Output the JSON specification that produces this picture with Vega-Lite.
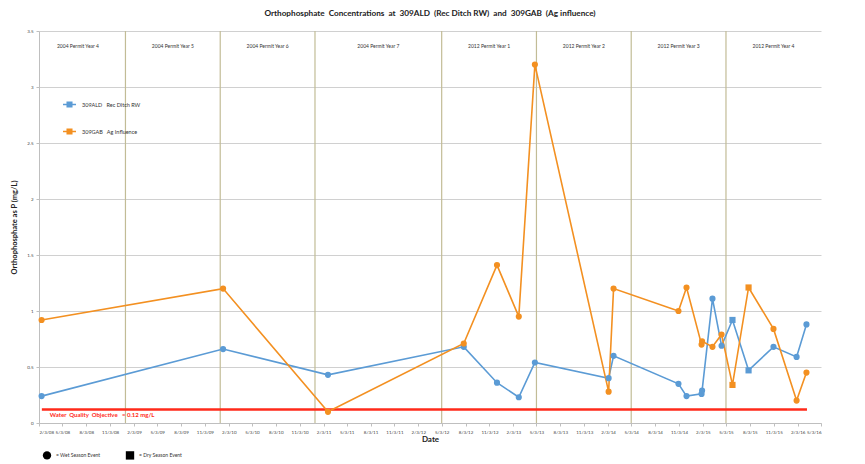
{
  "$schema": "https://vega.github.io/schema/vega-lite/v6.json",
  "width": 782,
  "height": 392,
  "autosize": {"type": "none"},
  "padding": {"left": 39, "top": 31, "right": 44, "bottom": 41},
  "background": "white",
  "title": {"text": "Orthophosphate\u00a0 Concentrations\u00a0 at\u00a0 309ALD\u00a0 (Rec Ditch RW)\u00a0 and\u00a0 309GAB\u00a0 (Ag influence)", "fontSize": 8.2, "font": "Lato", "fontWeight": "bold", "anchor": "middle", "offset": 10, "color": "#222222"},
  "config": {"view": {"stroke": null}, "font": "Lato", "axis": {"labelOverlap": false}},
  "datasets": {
    "samples": [
      {"date": "2008-02-13", "site": "309ALD\u00a0\u00a0 Rec Ditch RW", "value": 0.24, "season": "Wet"},
      {"date": "2010-01-12", "site": "309ALD\u00a0\u00a0 Rec Ditch RW", "value": 0.66, "season": "Wet"},
      {"date": "2011-02-20", "site": "309ALD\u00a0\u00a0 Rec Ditch RW", "value": 0.43, "season": "Wet"},
      {"date": "2012-07-27", "site": "309ALD\u00a0\u00a0 Rec Ditch RW", "value": 0.68, "season": "Wet"},
      {"date": "2012-12-02", "site": "309ALD\u00a0\u00a0 Rec Ditch RW", "value": 0.36, "season": "Wet"},
      {"date": "2013-02-24", "site": "309ALD\u00a0\u00a0 Rec Ditch RW", "value": 0.23, "season": "Wet"},
      {"date": "2013-04-27", "site": "309ALD\u00a0\u00a0 Rec Ditch RW", "value": 0.54, "season": "Wet"},
      {"date": "2014-02-05", "site": "309ALD\u00a0\u00a0 Rec Ditch RW", "value": 0.40, "season": "Wet"},
      {"date": "2014-02-24", "site": "309ALD\u00a0\u00a0 Rec Ditch RW", "value": 0.60, "season": "Wet"},
      {"date": "2014-11-01", "site": "309ALD\u00a0\u00a0 Rec Ditch RW", "value": 0.35, "season": "Wet"},
      {"date": "2014-12-02", "site": "309ALD\u00a0\u00a0 Rec Ditch RW", "value": 0.24, "season": "Wet"},
      {"date": "2015-01-29", "site": "309ALD\u00a0\u00a0 Rec Ditch RW", "value": 0.26, "season": "Wet"},
      {"date": "2015-01-31", "site": "309ALD\u00a0\u00a0 Rec Ditch RW", "value": 0.29, "season": "Wet"},
      {"date": "2015-03-12", "site": "309ALD\u00a0\u00a0 Rec Ditch RW", "value": 1.11, "season": "Wet"},
      {"date": "2015-04-16", "site": "309ALD\u00a0\u00a0 Rec Ditch RW", "value": 0.69, "season": "Wet"},
      {"date": "2015-05-28", "site": "309ALD\u00a0\u00a0 Rec Ditch RW", "value": 0.92, "season": "Dry"},
      {"date": "2015-07-29", "site": "309ALD\u00a0\u00a0 Rec Ditch RW", "value": 0.47, "season": "Dry"},
      {"date": "2015-11-02", "site": "309ALD\u00a0\u00a0 Rec Ditch RW", "value": 0.68, "season": "Wet"},
      {"date": "2016-01-30", "site": "309ALD\u00a0\u00a0 Rec Ditch RW", "value": 0.59, "season": "Wet"},
      {"date": "2016-03-08", "site": "309ALD\u00a0\u00a0 Rec Ditch RW", "value": 0.88, "season": "Wet"},
      {"date": "2008-02-13", "site": "309GAB\u00a0\u00a0 Ag Influence", "value": 0.92, "season": "Wet"},
      {"date": "2010-01-12", "site": "309GAB\u00a0\u00a0 Ag Influence", "value": 1.20, "season": "Wet"},
      {"date": "2011-02-20", "site": "309GAB\u00a0\u00a0 Ag Influence", "value": 0.10, "season": "Wet"},
      {"date": "2012-07-27", "site": "309GAB\u00a0\u00a0 Ag Influence", "value": 0.71, "season": "Wet"},
      {"date": "2012-12-02", "site": "309GAB\u00a0\u00a0 Ag Influence", "value": 1.41, "season": "Wet"},
      {"date": "2013-02-24", "site": "309GAB\u00a0\u00a0 Ag Influence", "value": 0.95, "season": "Wet"},
      {"date": "2013-04-27", "site": "309GAB\u00a0\u00a0 Ag Influence", "value": 3.20, "season": "Wet"},
      {"date": "2014-02-05", "site": "309GAB\u00a0\u00a0 Ag Influence", "value": 0.28, "season": "Wet"},
      {"date": "2014-02-24", "site": "309GAB\u00a0\u00a0 Ag Influence", "value": 1.20, "season": "Wet"},
      {"date": "2014-11-01", "site": "309GAB\u00a0\u00a0 Ag Influence", "value": 1.00, "season": "Wet"},
      {"date": "2014-12-02", "site": "309GAB\u00a0\u00a0 Ag Influence", "value": 1.21, "season": "Wet"},
      {"date": "2015-01-29", "site": "309GAB\u00a0\u00a0 Ag Influence", "value": 0.70, "season": "Wet"},
      {"date": "2015-01-31", "site": "309GAB\u00a0\u00a0 Ag Influence", "value": 0.73, "season": "Wet"},
      {"date": "2015-03-12", "site": "309GAB\u00a0\u00a0 Ag Influence", "value": 0.68, "season": "Wet"},
      {"date": "2015-04-16", "site": "309GAB\u00a0\u00a0 Ag Influence", "value": 0.79, "season": "Wet"},
      {"date": "2015-05-28", "site": "309GAB\u00a0\u00a0 Ag Influence", "value": 0.34, "season": "Dry"},
      {"date": "2015-07-29", "site": "309GAB\u00a0\u00a0 Ag Influence", "value": 1.21, "season": "Dry"},
      {"date": "2015-11-02", "site": "309GAB\u00a0\u00a0 Ag Influence", "value": 0.84, "season": "Wet"},
      {"date": "2016-01-30", "site": "309GAB\u00a0\u00a0 Ag Influence", "value": 0.20, "season": "Wet"},
      {"date": "2016-03-08", "site": "309GAB\u00a0\u00a0 Ag Influence", "value": 0.45, "season": "Wet"}
    ],
    "permit": [
      {"label": "2004 Permit Year 4", "start": "2008-01-01", "end": "2009-01-01"},
      {"label": "2004 Permit Year 5", "start": "2009-01-01", "end": "2010-01-01"},
      {"label": "2004 Permit Year 6", "start": "2010-01-01", "end": "2011-01-01"},
      {"label": "2004 Permit Year 7", "start": "2011-01-01", "end": "2012-05-03"},
      {"label": "2012 Permit Year 1", "start": "2012-05-03", "end": "2013-05-03"},
      {"label": "2012 Permit Year 2", "start": "2013-05-03", "end": "2014-05-03"},
      {"label": "2012 Permit Year 3", "start": "2014-05-03", "end": "2015-05-03"},
      {"label": "2012 Permit Year 4", "start": "2015-05-03", "end": "2016-05-03"}
    ],
    "wqo": [
      {"date": "2008-02-14", "end": "2016-03-10", "value": 0.12, "label": "Water\u00a0 Quality\u00a0 Objective\u00a0\u00a0 = 0.12 mg/L"}
    ]
  },
  "encoding": {
    "x": {
      "field": "date", "type": "temporal",
      "scale": {"type": "utc", "domain": [{"year": 2008, "month": 2, "date": 3, "utc": true}, {"year": 2016, "month": 5, "date": 3, "utc": true}]},
      "axis": {
        "title": "Date", "titleFontSize": 8, "titleFontWeight": "bold", "titleColor": "#222222", "titlePadding": 2,
        "format": "%-m/%-d/%y", "labelFontSize": 4.5, "labelColor": "#444444", "labelAngle": 0, "labelPadding": 3,
        "labelOverlap": false, "labelSeparation": 0, "grid": false, "domainColor": "#BFBFBF", "tickColor": "#BFBFBF", "tickSize": 3,
        "values": [
          {"year": 2008, "month": 2, "date": 3, "utc": true}, {"year": 2008, "month": 5, "date": 3, "utc": true}, {"year": 2008, "month": 8, "date": 3, "utc": true}, {"year": 2008, "month": 11, "date": 3, "utc": true},
          {"year": 2009, "month": 2, "date": 3, "utc": true}, {"year": 2009, "month": 5, "date": 3, "utc": true}, {"year": 2009, "month": 8, "date": 3, "utc": true}, {"year": 2009, "month": 11, "date": 3, "utc": true},
          {"year": 2010, "month": 2, "date": 3, "utc": true}, {"year": 2010, "month": 5, "date": 3, "utc": true}, {"year": 2010, "month": 8, "date": 3, "utc": true}, {"year": 2010, "month": 11, "date": 3, "utc": true},
          {"year": 2011, "month": 2, "date": 3, "utc": true}, {"year": 2011, "month": 5, "date": 3, "utc": true}, {"year": 2011, "month": 8, "date": 3, "utc": true}, {"year": 2011, "month": 11, "date": 3, "utc": true},
          {"year": 2012, "month": 2, "date": 3, "utc": true}, {"year": 2012, "month": 5, "date": 3, "utc": true}, {"year": 2012, "month": 8, "date": 3, "utc": true}, {"year": 2012, "month": 11, "date": 3, "utc": true},
          {"year": 2013, "month": 2, "date": 3, "utc": true}, {"year": 2013, "month": 5, "date": 3, "utc": true}, {"year": 2013, "month": 8, "date": 3, "utc": true}, {"year": 2013, "month": 11, "date": 3, "utc": true},
          {"year": 2014, "month": 2, "date": 3, "utc": true}, {"year": 2014, "month": 5, "date": 3, "utc": true}, {"year": 2014, "month": 8, "date": 3, "utc": true}, {"year": 2014, "month": 11, "date": 3, "utc": true},
          {"year": 2015, "month": 2, "date": 3, "utc": true}, {"year": 2015, "month": 5, "date": 3, "utc": true}, {"year": 2015, "month": 8, "date": 3, "utc": true}, {"year": 2015, "month": 11, "date": 3, "utc": true},
          {"year": 2016, "month": 2, "date": 3, "utc": true}, {"year": 2016, "month": 5, "date": 3, "utc": true}
        ]
      }
    }
  },
  "layer": [
    {
      "data": {"name": "permit"},
      "transform": [{"filter": "datum.label != '2004 Permit Year 4'"}],
      "mark": {"type": "rule", "color": "#C2BC96", "strokeWidth": 1.2},
      "encoding": {
        "x": {
          "field": "start", "type": "temporal",
          "axis": {
            "title": "Date", "titleFontSize": 8, "titleFontWeight": "bold", "titleColor": "#222222", "titlePadding": 2,
            "format": "%-m/%-d/%y", "labelFontSize": 4.5, "labelColor": "#444444", "labelAngle": 0, "labelPadding": 3,
            "labelOverlap": false, "labelSeparation": 0, "grid": false, "domainColor": "#BFBFBF", "tickColor": "#BFBFBF", "tickSize": 3,
            "values": [
              {"year": 2008, "month": 2, "date": 3, "utc": true}, {"year": 2008, "month": 5, "date": 3, "utc": true}, {"year": 2008, "month": 8, "date": 3, "utc": true}, {"year": 2008, "month": 11, "date": 3, "utc": true},
              {"year": 2009, "month": 2, "date": 3, "utc": true}, {"year": 2009, "month": 5, "date": 3, "utc": true}, {"year": 2009, "month": 8, "date": 3, "utc": true}, {"year": 2009, "month": 11, "date": 3, "utc": true},
              {"year": 2010, "month": 2, "date": 3, "utc": true}, {"year": 2010, "month": 5, "date": 3, "utc": true}, {"year": 2010, "month": 8, "date": 3, "utc": true}, {"year": 2010, "month": 11, "date": 3, "utc": true},
              {"year": 2011, "month": 2, "date": 3, "utc": true}, {"year": 2011, "month": 5, "date": 3, "utc": true}, {"year": 2011, "month": 8, "date": 3, "utc": true}, {"year": 2011, "month": 11, "date": 3, "utc": true},
              {"year": 2012, "month": 2, "date": 3, "utc": true}, {"year": 2012, "month": 5, "date": 3, "utc": true}, {"year": 2012, "month": 8, "date": 3, "utc": true}, {"year": 2012, "month": 11, "date": 3, "utc": true},
              {"year": 2013, "month": 2, "date": 3, "utc": true}, {"year": 2013, "month": 5, "date": 3, "utc": true}, {"year": 2013, "month": 8, "date": 3, "utc": true}, {"year": 2013, "month": 11, "date": 3, "utc": true},
              {"year": 2014, "month": 2, "date": 3, "utc": true}, {"year": 2014, "month": 5, "date": 3, "utc": true}, {"year": 2014, "month": 8, "date": 3, "utc": true}, {"year": 2014, "month": 11, "date": 3, "utc": true},
              {"year": 2015, "month": 2, "date": 3, "utc": true}, {"year": 2015, "month": 5, "date": 3, "utc": true}, {"year": 2015, "month": 8, "date": 3, "utc": true}, {"year": 2015, "month": 11, "date": 3, "utc": true},
              {"year": 2016, "month": 2, "date": 3, "utc": true}, {"year": 2016, "month": 5, "date": 3, "utc": true}
            ]
          }
        }
      }
    },
    {
      "data": {"name": "permit"},
      "transform": [{"calculate": "(time(datum.start) + time(datum.end)) / 2", "as": "mid"}],
      "mark": {"type": "text", "fontSize": 5, "color": "#333333", "align": "center", "baseline": "middle"},
      "encoding": {
        "x": {
          "field": "mid", "type": "temporal",
          "axis": {
            "title": "Date", "titleFontSize": 8, "titleFontWeight": "bold", "titleColor": "#222222", "titlePadding": 2,
            "format": "%-m/%-d/%y", "labelFontSize": 4.5, "labelColor": "#444444", "labelAngle": 0, "labelPadding": 3,
            "labelOverlap": false, "labelSeparation": 0, "grid": false, "domainColor": "#BFBFBF", "tickColor": "#BFBFBF", "tickSize": 3,
            "values": [
              {"year": 2008, "month": 2, "date": 3, "utc": true}, {"year": 2008, "month": 5, "date": 3, "utc": true}, {"year": 2008, "month": 8, "date": 3, "utc": true}, {"year": 2008, "month": 11, "date": 3, "utc": true},
              {"year": 2009, "month": 2, "date": 3, "utc": true}, {"year": 2009, "month": 5, "date": 3, "utc": true}, {"year": 2009, "month": 8, "date": 3, "utc": true}, {"year": 2009, "month": 11, "date": 3, "utc": true},
              {"year": 2010, "month": 2, "date": 3, "utc": true}, {"year": 2010, "month": 5, "date": 3, "utc": true}, {"year": 2010, "month": 8, "date": 3, "utc": true}, {"year": 2010, "month": 11, "date": 3, "utc": true},
              {"year": 2011, "month": 2, "date": 3, "utc": true}, {"year": 2011, "month": 5, "date": 3, "utc": true}, {"year": 2011, "month": 8, "date": 3, "utc": true}, {"year": 2011, "month": 11, "date": 3, "utc": true},
              {"year": 2012, "month": 2, "date": 3, "utc": true}, {"year": 2012, "month": 5, "date": 3, "utc": true}, {"year": 2012, "month": 8, "date": 3, "utc": true}, {"year": 2012, "month": 11, "date": 3, "utc": true},
              {"year": 2013, "month": 2, "date": 3, "utc": true}, {"year": 2013, "month": 5, "date": 3, "utc": true}, {"year": 2013, "month": 8, "date": 3, "utc": true}, {"year": 2013, "month": 11, "date": 3, "utc": true},
              {"year": 2014, "month": 2, "date": 3, "utc": true}, {"year": 2014, "month": 5, "date": 3, "utc": true}, {"year": 2014, "month": 8, "date": 3, "utc": true}, {"year": 2014, "month": 11, "date": 3, "utc": true},
              {"year": 2015, "month": 2, "date": 3, "utc": true}, {"year": 2015, "month": 5, "date": 3, "utc": true}, {"year": 2015, "month": 8, "date": 3, "utc": true}, {"year": 2015, "month": 11, "date": 3, "utc": true},
              {"year": 2016, "month": 2, "date": 3, "utc": true}, {"year": 2016, "month": 5, "date": 3, "utc": true}
            ]
          }
        },
        "y": {"datum": 3.37, "type": "quantitative"},
        "text": {"field": "label"}
      }
    },
    {
      "data": {"name": "wqo"},
      "mark": {"type": "rule", "color": "#FF2A1A", "strokeWidth": 2.5},
      "encoding": {
        "x2": {"field": "end"},
        "y": {
          "field": "value", "type": "quantitative",
          "scale": {"domain": [0, 3.5]},
          "axis": {
            "title": "Orthophosphate as P (mg/L)", "titleFontSize": 7.5, "titleFontWeight": "bold", "titleColor": "#222222", "titlePadding": 8,
            "values": [0, 0.5, 1, 1.5, 2, 2.5, 3, 3.5], "format": "~g", "labelFontSize": 4.5, "labelColor": "#444444", "labelPadding": 3,
            "grid": true, "gridColor": "#D0D0D0", "gridWidth": 1, "domainColor": "#BFBFBF", "tickColor": "#BFBFBF", "tickSize": 3
          }
        }
      }
    },
    {
      "data": {"name": "wqo"},
      "mark": {"type": "text", "fontSize": 6, "fontWeight": "bold", "color": "#FF2A1A", "align": "left", "baseline": "middle", "dx": 8, "dy": 5},
      "encoding": {
        "y": {"field": "value", "type": "quantitative"},
        "text": {"field": "label"}
      }
    },
    {
      "data": {"name": "samples"},
      "mark": {"type": "line", "strokeWidth": 1.6},
      "encoding": {
        "y": {"field": "value", "type": "quantitative"},
        "color": {
          "field": "site", "type": "nominal",
          "scale": {"domain": ["309ALD\u00a0\u00a0 Rec Ditch RW", "309GAB\u00a0\u00a0 Ag Influence"], "range": ["#5B9BD5", "#F39021"]},
          "legend": {
            "orient": "none", "legendX": 23, "legendY": 66, "title": null, "padding": 0,
            "symbolType": "M-1,0H1M-0.35,-0.35H0.35V0.35H-0.35Z", "symbolSize": 169, "symbolStrokeWidth": 1.5,
            "labelFontSize": 5.5, "labelColor": "#333333", "labelOffset": 5, "rowPadding": 14,
            "encode": {"symbols": {"update": {"fill": {"scale": "color", "field": "value"}, "stroke": {"scale": "color", "field": "value"}}}}
          }
        }
      }
    },
    {
      "data": {"name": "samples"},
      "mark": {"type": "point", "filled": true, "size": 38, "opacity": 1},
      "encoding": {
        "y": {"field": "value", "type": "quantitative"},
        "color": {"field": "site", "type": "nominal"},
        "shape": {
          "field": "season", "type": "nominal",
          "scale": {"domain": ["Wet", "Dry"], "range": ["circle", "square"]},
          "legend": {
            "orient": "none", "legendX": 3, "legendY": 419, "direction": "horizontal", "title": null, "padding": 0,
            "symbolSize": 70, "labelFontSize": 5, "labelColor": "#333333", "labelOffset": 4, "columnPadding": 21,
            "labelExpr": "datum.label == 'Wet' ? '= Wet Season Event' : '= Dry Season Event'",
            "encode": {"symbols": {"update": {"fill": {"value": "black"}, "stroke": {"value": "black"}, "opacity": {"value": 1}}}}
          }
        }
      }
    }
  ]
}
